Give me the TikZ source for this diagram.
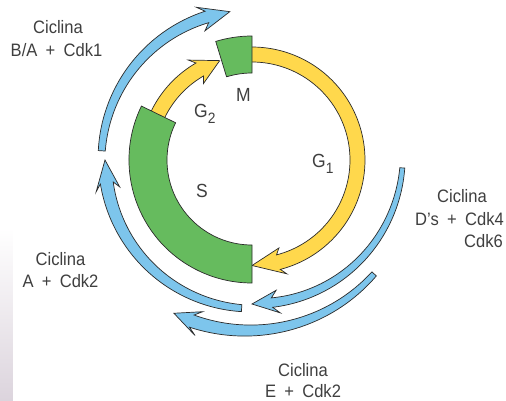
\documentclass[tikz,border=0pt]{standalone}
\usepackage{fontspec}
\setmainfont[FakeStretch=0.92, WordSpace=1.8]{Liberation Sans}
\definecolor{cycgreen}{HTML}{66BB5E}
\definecolor{cycyellow}{HTML}{FFD84C}
\definecolor{cycblue}{HTML}{7DC5EC}
\definecolor{edgeline}{HTML}{2B2B2B}
\definecolor{labelgray}{HTML}{3F3F3F}
\definecolor{hazeA}{HTML}{EADDEB}
\definecolor{hazeB}{HTML}{DCD4DD}

% Curved arrow around the cycle centre, tapering from tail to head,
% drawn with the style ringstyle.
% #1 tail angle, #2 head-join angle, #3 tail radius, #4 head radius,
% #5 tail width, #6 width at the head, #7 barb angle, #8 barb half span, #9 tip angle
\newcommand{\ringarrow}[9]{%
  \path[ringstyle] plot[domain=#1:#2, samples=72]
      (\x:{#3+(#4-#3)*(\x-#1)/(#2-#1)+0.5*(#5+(#6-#5)*(\x-#1)/(#2-#1))})
    -- (#7:{#4+#8}) -- (#9:#4) -- (#7:{#4-#8})
    -- plot[domain=#2:#1, samples=72]
      (\x:{#3+(#4-#3)*(\x-#1)/(#2-#1)-0.5*(#5+(#6-#5)*(\x-#1)/(#2-#1))})
    -- cycle;}

\tikzset{
  ringstyle/.style={},
  phasebox/.style={fill=cycgreen, draw=edgeline, line width=0.7pt},
  yellowarrow/.style={fill=cycyellow, draw=edgeline, line width=0.7pt, line join=miter},
  bluearrow/.style={fill=cycblue, draw=edgeline, line width=0.7pt, line join=miter},
  lbl/.style={font=\fontsize{18}{22}\selectfont, text=labelgray, inner sep=0pt, anchor=base},
  phlbl/.style={font=\fontsize{19}{22}\selectfont, text=labelgray, inner sep=0pt}
}

\begin{document}
\begin{tikzpicture}[x=1pt, y=1pt]
\useasboundingbox (-252,-240) rectangle (254,160);
\fill[white] (-252,-240) rectangle (254,160);

% soft haze along the lower left edge
\shade[top color=white, middle color=hazeA, bottom color=hazeB]
  (-252,-68) rectangle (-239,-240);

% G1 and G2 arrows
\begin{scope}[ringstyle/.style=yellowarrow]
  \ringarrow{92}{-75.5}{105.5}{105.5}{15}{15}{-73}{13.5}{-90}
  \ringarrow{156}{120}{104.5}{104.5}{15}{15}{122.5}{14}{108}
\end{scope}

% S and M phases
\path[phasebox] (154:123) arc[start angle=154, end angle=270, radius=123]
  -- (270:85) arc[start angle=270, end angle=154, radius=85] -- cycle;
\path[phasebox] (90:124) arc[start angle=90, end angle=107, radius=124]
  -- (107:87) arc[start angle=107, end angle=90, radius=87] -- cycle;

% cyclin / Cdk activity arrows
\begin{scope}[ringstyle/.style=bluearrow]
  \ringarrow{176.5}{107.5}{150.5}{150}{7}{12}{110}{12.5}{98.5}
  \ringarrow{266}{189}{148.5}{147}{7}{13}{191.5}{12}{180}
  \ringarrow{357}{278}{150.5}{144}{5}{9.5}{280.5}{11.5}{270}
  \ringarrow{317}{249.5}{167}{172}{6}{13}{252}{12.5}{243}
\end{scope}

% phase labels
\node[phlbl, anchor=base] (mLab) at (-8.5,59) {M};
\node[phlbl, anchor=base west] (g2Lab) at (-58,43) {G\raisebox{-6pt}{\fontsize{15}{15}\selectfont 2}};
\node[phlbl, anchor=base west] (g1Lab) at (60,-7) {G\raisebox{-6pt}{\fontsize{15}{15}\selectfont 1}};
\node[phlbl, anchor=base] (sLab) at (-50,-37) {S};

% cyclin labels
\node[lbl] (baC) at (-194,127) {Ciclina};
\node[lbl] (baK) at (-195.5,104) {B/A + Cdk1};
\node[lbl] (dC) at (210,-42) {Ciclina};
\node[lbl] (dK) at (207.5,-65) {D's + Cdk4};
\node[lbl, anchor=base east] (dK6) at (251,-87) {Cdk6};
\node[lbl] (aC) at (-191.5,-105) {Ciclina};
\node[lbl] (aK) at (-191.5,-127) {A + Cdk2};
\node[lbl] (eC) at (51,-216.5) {Ciclina};
\node[lbl] (eK) at (51,-237) {E + Cdk2};
\end{tikzpicture}
\end{document}
